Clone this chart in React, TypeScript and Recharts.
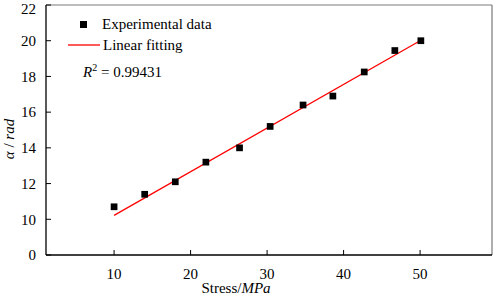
import React from 'react';
import { ComposedChart, Scatter, Line, XAxis, YAxis, ZAxis, ReferenceLine, Legend } from 'recharts';

const FONT = "'Liberation Serif', 'Times New Roman', Times, 'DejaVu Serif', serif";

// measured points
const stress = [10, 14, 18, 22, 26.4, 30.4, 34.7, 38.6, 42.7, 46.7, 50.1];
const alpha = [10.7, 11.4, 12.1, 13.2, 14.0, 15.2, 16.4, 16.9, 18.25, 19.45, 20.0];

// end points of the fitted line
const fitStress = [10, 50];
const fitAlpha = [10.22, 20.0];

const xTicks = [10, 20, 30, 40, 50];
// broken y axis: the "0" tick sits one step below 10
const yTicks = [8, 10, 12, 14, 16, 18, 20, 22];
const yTickLabels = ['0', '10', '12', '14', '16', '18', '20', '22'];

const rSquared = '0.99431';

const points = stress.map((x, i) => ({ x, y: alpha[i] }));
const fitLine = fitStress.map((x, i) => ({ x, y: fitAlpha[i] }));

const XTitle = () => (
  <text x={236} y={293} textAnchor="middle" fontSize={15} style={{ fontFamily: FONT }} fill="#000">
    Stress/<tspan fontStyle="italic">MPa</tspan>
  </text>
);

const YTitle = () => (
  <text
    x={14}
    y={139}
    textAnchor="middle"
    fontSize={15}
    style={{ fontFamily: FONT }}
    fill="#000"
    transform="rotate(-90 14 139)"
  >
    <tspan fontStyle="italic">α</tspan> / <tspan fontStyle="italic">rad</tspan>
  </text>
);

const LegendBox = () => (
  <svg width={260} height={85} style={{ fontFamily: FONT, display: 'block' }}>
    <rect x={80} y={21} width={7} height={7} fill="#000" />
    <text x={102} y={29} fontSize={15} fill="#000">Experimental data</text>
    <line x1={68} x2={100} y1={45} y2={45} stroke="#ff0000" strokeWidth={1.3} />
    <text x={103} y={50} fontSize={15} fill="#000">Linear fitting</text>
    <text x={83} y={77} fontSize={15} fill="#000">
      <tspan fontStyle="italic">R</tspan>
      <tspan dy={-6} fontSize={10}>2</tspan>
      <tspan dy={6}> = {rSquared}</tspan>
    </text>
  </svg>
);

const tickStyle = { fill: '#000', fontSize: 15, style: { fontFamily: FONT } };

const App = () => {
  return (
    <div style={{ position: 'absolute', left: 0, top: 0, background: '#fff', fontFamily: FONT }}>
      <ComposedChart
        width={498}
        height={301}
        margin={{ top: 5, right: 6, bottom: 0, left: 0 }}
        style={{ fontFamily: FONT }}
      >
        <XAxis
          type="number"
          dataKey="x"
          domain={[1.1, 59.4]}
          ticks={xTicks}
          height={46}
          tickSize={-5}
          tickMargin={18}
          stroke="#000"
          axisLine={{ stroke: '#000', strokeWidth: 1.3 }}
          tickLine={{ stroke: '#000' }}
          tick={tickStyle}
          label={<XTitle />}
          allowDataOverflow
        />
        <YAxis
          type="number"
          dataKey="y"
          domain={[8, 22]}
          ticks={yTicks}
          width={46}
          tickSize={-5}
          tickMargin={15}
          tickFormatter={(v: number) => yTickLabels[yTicks.indexOf(v)]}
          axisLine={{ stroke: '#000', strokeWidth: 1.3 }}
          tickLine={{ stroke: '#000' }}
          tick={tickStyle}
          label={<YTitle />}
          allowDataOverflow
        />
        <ZAxis range={[45, 45]} />
        <ReferenceLine y={22} stroke="#7a7a7a" strokeWidth={1.2} />
        <ReferenceLine x={59.4} stroke="#7a7a7a" strokeWidth={1.2} />
        <Line
          data={fitLine}
          dataKey="y"
          type="linear"
          stroke="#ff0000"
          strokeWidth={1.3}
          dot={false}
          activeDot={false}
          isAnimationActive={false}
        />
        <Scatter data={points} dataKey="y" fill="#000" shape="square" isAnimationActive={false} />
        <Legend
          layout="vertical"
          align="center"
          verticalAlign="middle"
          wrapperStyle={{ left: 0, top: 0, width: 260, height: 85 }}
          content={() => <LegendBox />}
        />
      </ComposedChart>
    </div>
  );
};

export default App;
